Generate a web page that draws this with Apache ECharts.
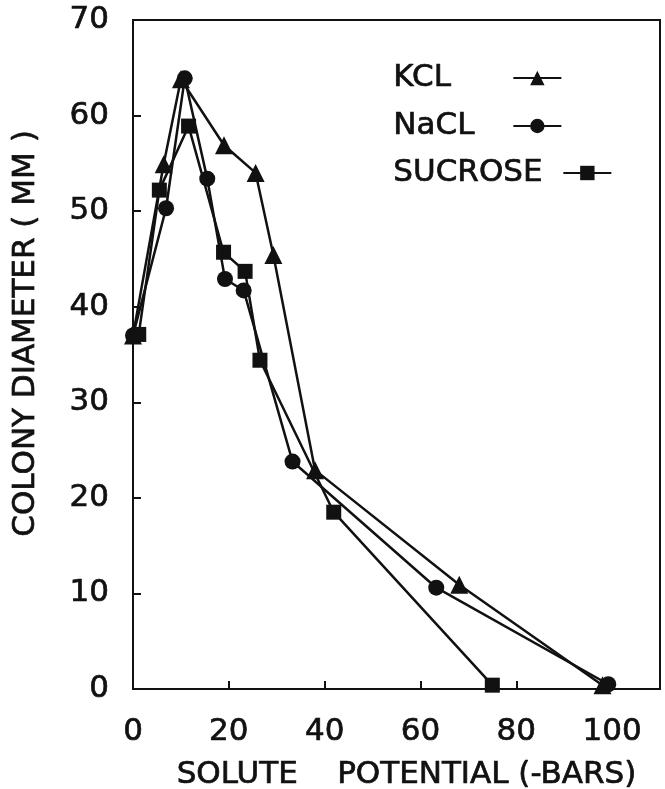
<!DOCTYPE html>
<html>
<head>
<meta charset="utf-8">
<script src="https://cdn.jsdelivr.net/npm/echarts@6/dist/echarts.min.js"></script>
<style>
html,body{margin:0;padding:0;background:#fff;}
#chart{width:665px;height:789px;}
</style>
</head>
<body>
<div id="chart"></div>
<script>
// Data: [solute potential (-bars), colony diameter (mm)]
var kclData = [[0, 37], [6.4, 54.9], [10.0, 63.8], [19.0, 56.9], [25.6, 54.0], [29.3, 45.4], [38.0, 22.9], [68.1, 10.9], [98.0, 0.4]];
var naclData = [[0, 37], [6.9, 50.3], [10.8, 63.9], [15.5, 53.4], [19.2, 42.9], [23.1, 41.7], [33.3, 23.8], [63.3, 10.6], [99.2, 0.5]];
var sucroseData = [[1.2, 37.1], [5.5, 52.2], [11.6, 58.9], [18.9, 45.7], [23.4, 43.7], [26.5, 34.4], [41.9, 18.5], [75.0, 0.4]];
var seriesNames = ['KCL', 'NaCL', 'SUCROSE'];
var xTitle = 'SOLUTE    POTENTIAL (-BARS)';
var yTitle = 'COLONY DIAMETER ( MM )';

var FONT = 'DejaVu Sans';
var INK = '#111';
var FS = 31;
var chart = echarts.init(document.getElementById('chart'));

function txt(extra) {
  var o = {fontFamily: FONT, fontSize: FS, color: INK, textBorderColor: INK, textBorderWidth: 0.7};
  for (var k in extra) o[k] = extra[k];
  return o;
}

function mkLegend(name, top, textW) {
  return {
    data: [name],
    left: 393,
    top: top,
    align: 'right',
    itemWidth: 48,
    itemHeight: 18,
    padding: 0,
    selectedMode: false,
    formatter: function (n) { return '{t|' + n + '}'; },
    textStyle: txt({lineHeight: 32, rich: {t: txt({width: textW, align: 'left', lineHeight: 32})}})
  };
}

var option = {
  animation: false,
  backgroundColor: '#fff',
  grid: {left: 133, right: 5, top: 20, bottom: 100, show: true, borderColor: INK, borderWidth: 2,
    backgroundColor: 'transparent', containLabel: false, outerBoundsMode: 'none'},
  legend: [mkLegend(seriesNames[0], 62, 115), mkLegend(seriesNames[1], 110, 115), mkLegend(seriesNames[2], 157, 165)],
  xAxis: {
    type: 'value', min: 0, max: 110, interval: 20,
    name: xTitle, nameLocation: 'middle', nameGap: 70,
    nameTextStyle: txt({padding: [0, 0, 0, 20]}),
    axisLine: {show: true, lineStyle: {color: INK, width: 2}},
    axisTick: {show: true, inside: true, length: 8, lineStyle: {color: INK, width: 2}},
    axisLabel: txt({margin: 27,
      formatter: function (v) { return v % 20 === 0 ? String(v) : ''; }}),
    splitLine: {show: false}
  },
  yAxis: {
    type: 'value', min: 0, max: 70, interval: 10,
    name: yTitle, nameLocation: 'middle', nameGap: 92,
    nameTextStyle: txt({padding: [0, 0, 0, 42]}),
    axisLine: {show: true, lineStyle: {color: INK, width: 2}},
    axisTick: {show: true, inside: true, length: 8, lineStyle: {color: INK, width: 2}},
    axisLabel: txt({margin: 24}),
    splitLine: {show: false}
  },
  series: [
    {name: seriesNames[0], type: 'line', data: kclData, symbol: 'triangle', symbolSize: 18,
      lineStyle: {color: INK, width: 2.5}, itemStyle: {color: INK}, z: 3},
    {name: seriesNames[1], type: 'line', data: naclData, symbol: 'circle', symbolSize: 16,
      lineStyle: {color: INK, width: 2.5}, itemStyle: {color: INK}, z: 3},
    {name: seriesNames[2], type: 'line', data: sucroseData, symbol: 'rect', symbolSize: 15,
      lineStyle: {color: INK, width: 2.5}, itemStyle: {color: INK}, z: 3}
  ]
};
chart.setOption(option);
</script>
</body>
</html>
